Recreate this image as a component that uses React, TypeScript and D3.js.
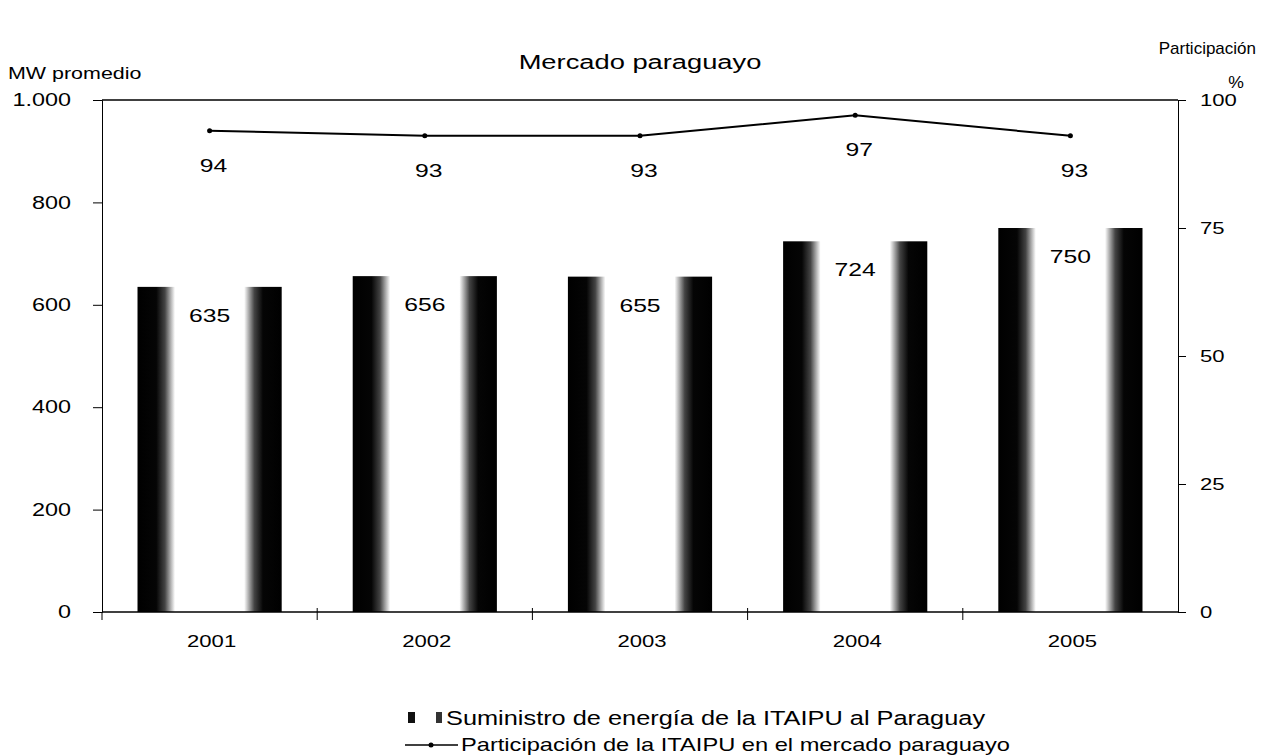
import React, { useEffect, useRef } from 'react';
import * as d3 from 'd3';

const years = ['2001', '2002', '2003', '2004', '2005'];
const supplyMW = [635, 656, 655, 724, 750];
const sharePct = [94, 93, 93, 97, 93];
const leftTicks = [0, 200, 400, 600, 800, 1000];
const rightTicks = [0, 25, 50, 75, 100];

const W = 1261;
const H = 755;
const FONT = '"Liberation Sans", Arial, sans-serif';
const SX = 1.3; // the scan is stretched sideways

// stretched text helper
function addText(parent: any, x: number, y: number, txt: string, size: number, anchor = 'start', sx = SX) {
  return parent.append('text')
    .attr('transform', `translate(${x},${y}) scale(${sx},1)`)
    .attr('text-anchor', anchor)
    .attr('font-family', FONT)
    .attr('font-size', size)
    .attr('fill', '#000')
    .text(txt);
}

function stretchAxisText(axisG: any, size: number) {
  axisG.selectAll('text').each(function (this: SVGTextElement) {
    const t = d3.select(this);
    const x = +(t.attr('x') || 0);
    t.attr('x', 0).attr('transform', `translate(${x},0) scale(${SX},1)`)
      .attr('font-family', FONT).attr('font-size', size).attr('fill', '#000');
  });
}

function drawChart(container: SVGSVGElement) {
  const svg = d3.select(container);
  svg.selectAll('*').remove();

  const margin = { top: 100, right: 83, bottom: 143, left: 102 };
  const width = W - margin.left - margin.right;
  const height = H - margin.top - margin.bottom;

  // bar fill: dark edges, pale middle
  const defs = svg.append('defs');
  const grad = defs.append('linearGradient').attr('id', 'barGrad')
    .attr('x1', '0').attr('x2', '1').attr('y1', '0').attr('y2', '0');
  [
    [0, '#000'], [0.13, '#050505'], [0.19, '#444'], [0.26, '#fff'],
    [0.74, '#fff'], [0.81, '#444'], [0.87, '#050505'], [1, '#000'],
  ].forEach(([o, c]) => grad.append('stop').attr('offset', o as number).attr('stop-color', c as string));

  const g = svg.append('g').attr('transform', `translate(${margin.left},${margin.top})`);

  const x = d3.scaleBand<string>().domain(years).range([0, width]).paddingInner(0.33).paddingOuter(0.165);
  const xc = d3.scaleBand<string>().domain(years).range([0, width]);
  const y = d3.scaleLinear().domain([0, 1000]).range([height, 0]);
  const y2 = d3.scaleLinear().domain([0, 100]).range([height, 0]);

  // bars
  g.selectAll('.bar').data(years).enter().append('rect')
    .attr('x', d => x(d)!)
    .attr('width', x.bandwidth())
    .attr('y', (d, i) => y(supplyMW[i]))
    .attr('height', (d, i) => height - y(supplyMW[i]))
    .attr('fill', 'url(#barGrad)');

  years.forEach((yr, i) => {
    addText(g, x(yr)! + x.bandwidth() / 2, y(supplyMW[i]) + 35, String(supplyMW[i]), 19, 'middle');
  });

  // frame top line
  g.append('line').attr('x1', 0).attr('x2', width).attr('y1', 0).attr('y2', 0)
    .attr('stroke', '#000').attr('stroke-width', 1.5);

  // left axis
  const leftAxis = g.append('g')
    .call(d3.axisLeft(y).tickValues(leftTicks).tickSize(9).tickPadding(22)
      .tickFormat(d => (d as number) === 1000 ? '1.000' : String(d)));
  leftAxis.selectAll('line,path').attr('stroke', '#000');
  stretchAxisText(leftAxis, 18);

  // right axis
  const rightAxis = g.append('g').attr('transform', `translate(${width},0)`)
    .call(d3.axisRight(y2).tickValues(rightTicks).tickSize(8).tickPadding(14));
  rightAxis.selectAll('line,path').attr('stroke', '#000');
  stretchAxisText(rightAxis, 17);

  // bottom axis
  const bottom = g.append('g').attr('transform', `translate(0,${height})`);
  bottom.append('line').attr('x1', 0).attr('x2', width).attr('stroke', '#000').attr('stroke-width', 1.5);
  years.forEach((yr, i) => {
    const bx = xc(yr)!;
    if (i > 0) bottom.append('line').attr('x1', bx).attr('x2', bx).attr('y1', -4).attr('y2', 8).attr('stroke', '#000');
    addText(bottom, bx + xc.bandwidth() / 2 + 2, 35, yr, 17, 'middle');
  });
  bottom.append('line').attr('x1', 0).attr('x2', 0).attr('y1', 0).attr('y2', 8).attr('stroke', '#000');

  // share line
  const line = d3.line<number>()
    .x((d, i) => xc(years[i])! + xc.bandwidth() / 2)
    .y(d => y2(d));
  g.append('path').datum(sharePct).attr('d', line)
    .attr('fill', 'none').attr('stroke', '#000').attr('stroke-width', 2);
  g.selectAll('.pt').data(sharePct).enter().append('circle')
    .attr('cx', (d, i) => xc(years[i])! + xc.bandwidth() / 2)
    .attr('cy', d => y2(d)).attr('r', 2.5).attr('fill', '#000');
  sharePct.forEach((v, i) => {
    addText(g, xc(years[i])! + xc.bandwidth() / 2 + 4, y2(v) + 41, String(v), 19, 'middle');
  });

  // titles
  addText(svg, 640, 69, 'Mercado paraguayo', 21, 'middle');
  addText(svg, 8, 79, 'MW promedio', 16.5, 'start');
  addText(svg, 1256, 54, 'Participación', 17, 'end', 1);
  addText(svg, 1244, 88, '%', 16, 'end', 1.1);

  // legend
  const leg = svg.append('g');
  leg.append('rect').attr('x', 408).attr('y', 712).attr('width', 7).attr('height', 11).attr('fill', '#111');
  leg.append('rect').attr('x', 436).attr('y', 712).attr('width', 6).attr('height', 11).attr('fill', '#333');
  addText(leg, 446, 725, 'Suministro de energía de la ITAIPU al Paraguay', 19.5, 'start');
  leg.append('line').attr('x1', 405).attr('x2', 458).attr('y1', 745).attr('y2', 745)
    .attr('stroke', '#000').attr('stroke-width', 1.5);
  leg.append('circle').attr('cx', 431).attr('cy', 745).attr('r', 2.5).attr('fill', '#000');
  addText(leg, 461, 751, 'Participación de la ITAIPU en el mercado paraguayo', 18.2, 'start');
}

export default function App() {
  const ref = useRef<SVGSVGElement>(null);
  useEffect(() => {
    if (ref.current) drawChart(ref.current);
  }, []);
  return (
    <svg ref={ref} width={W} height={H}
      style={{ position: 'absolute', left: 0, top: 0, background: '#fff' }} />
  );
}
